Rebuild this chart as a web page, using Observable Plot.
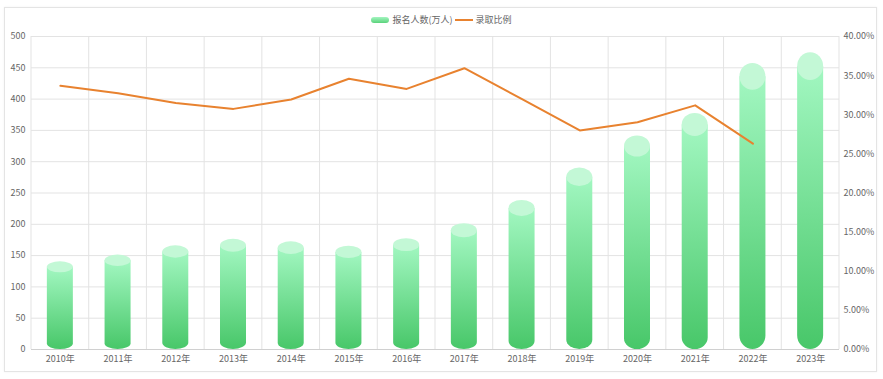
<!DOCTYPE html>
<html>
<head>
<meta charset="utf-8">
<script src="https://cdn.jsdelivr.net/npm/d3@7"></script>
<script src="https://cdn.jsdelivr.net/npm/@observablehq/plot@0.6"></script>
<style>
  body { margin: 0; background: #fff; font-family: "Noto Sans CJK SC", "Noto Sans", sans-serif; }
  #wrap { position: relative; width: 883px; height: 379px; overflow: hidden; }
  #frame { position: absolute; left: 4px; top: 7px; width: 871px; height: 363px; border: 1px solid #e4e4e4; box-shadow: 0 0 2px rgba(0,0,0,0.06); pointer-events: none; }
  #legend { position: absolute; top: 14px; left: 0; width: 883px; display: flex; justify-content: center; align-items: center; font-size: 9px; color: #666; line-height: 12px; }
  #legend .item { display: flex; align-items: center; margin: 0 1px; }
  #legend .sw-bar { width: 18px; height: 6px; border-radius: 3px; background: linear-gradient(#a3f5c0, #5ad27b); margin-right: 3px; }
  #legend .sw-line { width: 18px; height: 2px; background: #e8822f; margin-right: 3px; }
  #chart { position: absolute; left: 0; top: 0; }
</style>
</head>
<body>
<div id="wrap">
  <div id="chart"></div>
  <div id="frame"></div>
  <div id="legend"></div>
</div>
<script>
// ---- data ----
const years = ["2010年","2011年","2012年","2013年","2014年","2015年","2016年","2017年","2018年","2019年","2020年","2021年","2022年","2023年"];
const applicants = [140, 151, 165.6, 176, 172, 164.9, 177, 201, 238, 290, 341, 377, 457, 474];
const ratios = [33.7, 32.75, 31.5, 30.75, 31.95, 34.6, 33.3, 35.95, 32.0, 28.0, 29.05, 31.2, 26.3, null];
const leftTicks = [0, 50, 100, 150, 200, 250, 300, 350, 400, 450, 500];
const rightTicks = [0, 5, 10, 15, 20, 25, 30, 35, 40];
const seriesNames = ["报名人数(万人)", "录取比例"];
const leftMax = 500, rightMax = 40;

const data = years.map((year, i) => ({ year, value: applicants[i], ratio: ratios[i] }));

const barColorTop = "#a2f7c1", barColorBottom = "#48c769", capColor = "#c3f8d6", lineColor = "#e8822f", gridColor = "#e3e3e3";

// legend
const legend = document.getElementById("legend");
legend.innerHTML =
  `<span class="item"><span class="sw-bar"></span>${seriesNames[0]}</span>` +
  `<span class="item"><span class="sw-line"></span>${seriesNames[1]}</span>`;

function bandInfo(scales, dims) {
  const bw = typeof scales.x.bandwidth === "function" ? scales.x.bandwidth()
    : (dims.width - dims.marginLeft - dims.marginRight) / years.length;
  return bw;
}

// vertical grid lines at band boundaries
function bandGrid(index, scales, values, dims) {
  const g = d3.create("svg:g").attr("stroke", gridColor);
  const top = dims.marginTop, bottom = dims.height - dims.marginBottom;
  const xs = years.map(y => scales.x(y));
  xs.push(dims.width - dims.marginRight);
  for (const x of xs) {
    g.append("line").attr("x1", x).attr("x2", x).attr("y1", top).attr("y2", bottom);
  }
  return g.node();
}

// cylinders
function cylinders(index, scales, values, dims) {
  const g = d3.create("svg:g");
  const defs = g.append("defs");
  const grad = defs.append("linearGradient").attr("id", "cylGrad")
    .attr("x1", 0).attr("y1", 0).attr("x2", 0).attr("y2", 1);
  grad.append("stop").attr("offset", "0%").attr("stop-color", barColorTop);
  grad.append("stop").attr("offset", "100%").attr("stop-color", barColorBottom);
  const bw = bandInfo(scales, dims);
  const w = 26, r = w / 2;
  const y0 = scales.y(0);
  for (const d of data) {
    const cx = scales.x(d.year) + bw / 2;
    const yv = scales.y(d.value);
    const px = y0 - yv;
    const h = 4 + 0.08 * px;
    const ry = h / 2;
    const yt = yv + ry, yb = y0 - ry;
    g.append("path")
      .attr("d", `M${cx - r},${yt}L${cx + r},${yt}L${cx + r},${yb}A${r},${ry} 0 0 1 ${cx - r},${yb}Z`)
      .attr("fill", "url(#cylGrad)");
    g.append("ellipse").attr("cx", cx).attr("cy", yt).attr("rx", r).attr("ry", ry).attr("fill", capColor);
  }
  return g.node();
}

const plot = Plot.plot({
  width: 883,
  height: 379,
  marginTop: 36,
  marginBottom: 30,
  marginLeft: 31,
  marginRight: 44,
  style: { fontFamily: '"Noto Sans CJK SC", "Noto Sans", sans-serif', fontSize: "9px", color: "#666", background: "transparent" },
  x: { type: "band", domain: years, padding: 0, round: false },
  y: { domain: [0, leftMax] },
  marks: [
    Plot.gridY(leftTicks, { stroke: gridColor, strokeOpacity: 1 }),
    bandGrid,
    Plot.ruleY([0], { stroke: "#d0d0d0" }),
    cylinders,
    Plot.line(data.filter(d => d.ratio != null), {
      x: "year",
      y: d => d.ratio * leftMax / rightMax,
      stroke: lineColor,
      strokeWidth: 2
    }),
    Plot.axisX({ tickSize: 0, tickPadding: 6, label: null }),
    Plot.axisY(leftTicks, { anchor: "left", tickSize: 0, tickPadding: 6, label: null }),
    Plot.axisY(rightTicks.map(t => t * leftMax / rightMax), {
      anchor: "right", tickSize: 0, tickPadding: 4, label: null,
      tickFormat: d => (d * rightMax / leftMax).toFixed(2) + "%"
    })
  ]
});
document.getElementById("chart").appendChild(plot);
</script>
</body>
</html>
